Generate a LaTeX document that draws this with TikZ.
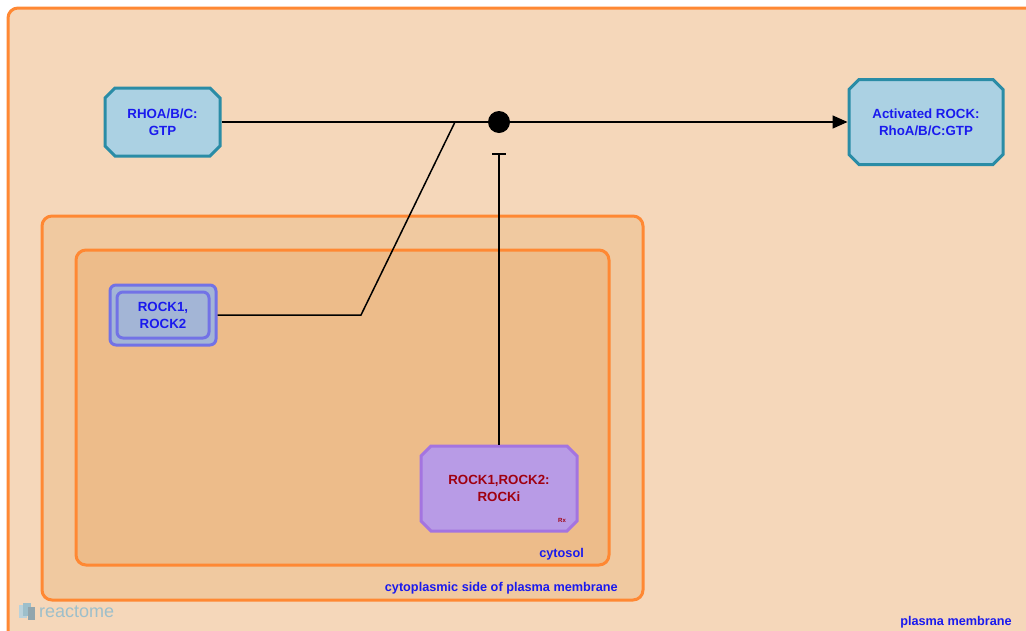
\documentclass[tikz,border=0pt]{standalone}
\usepackage{fontspec}
\setmainfont{Liberation Sans}
\usetikzlibrary{shapes.misc,arrows.meta}
\definecolor{pmfill}{HTML}{F5D7BA}
\definecolor{cpfill}{HTML}{F0C9A0}
\definecolor{cyfill}{HTML}{EDBC8A}
\definecolor{compline}{HTML}{FF8833}
\definecolor{protfill}{HTML}{ABD1E3}
\definecolor{protline}{HTML}{2A8CA6}
\definecolor{cxfill}{HTML}{A3B5D6}
\definecolor{cxline}{HTML}{7272E6}
\definecolor{drugfill}{HTML}{B89BE6}
\definecolor{drugline}{HTML}{A474E0}
\definecolor{lbl}{HTML}{1A1AEE}
\definecolor{druglbl}{HTML}{A00010}
\definecolor{logo}{HTML}{9DBFCB}
\tikzset{
  comp/.style={draw=compline, line width=3pt, rounded corners=10pt},
  complbl/.style={text=lbl, font=\bfseries\fontsize{12.7}{14}\selectfont, inner sep=0pt},
  nodefont/.style={font=\bfseries\fontsize{13.3}{17}\selectfont},
  prot/.style={chamfered rectangle, chamfered rectangle xsep=5pt, chamfered rectangle ysep=5pt,
     draw=protline, fill=protfill, line width=3pt, text=lbl, align=center, nodefont, inner sep=0pt},
  drugbox/.style={chamfered rectangle, chamfered rectangle xsep=5pt, chamfered rectangle ysep=5pt,
     draw=drugline, fill=drugfill, line width=3pt, text=druglbl, align=center, nodefont, inner sep=0pt},
  cxout/.style={rectangle, rounded corners=6pt, draw=cxline, fill=cxfill, line width=3pt, inner sep=0pt},
  cxin/.style={rectangle, rounded corners=6pt, draw=cxline, line width=3pt, text=lbl, align=center,
     nodefont, inner sep=0pt},
  edge/.style={draw=black, line width=1.5pt},
}
\begin{document}
\begin{tikzpicture}[x=1pt,y=-1pt]
\useasboundingbox (0,0) rectangle (1026,630);
\fill[white] (0,0) rectangle (1026,630);
% compartments
\path[comp, fill=pmfill] (8,8) rectangle (1040,645);
\path[comp, fill=cpfill] (42,216) rectangle (643,600);
\path[comp, fill=cyfill] (76,250) rectangle (609,565);
\node[complbl, anchor=base east] (lcy) at (584,557) {cytosol};
\node[complbl, anchor=base east] (lcp) at (618,591) {cytoplasmic side of plasma membrane};
\node[complbl, anchor=base east] (lpm) at (1012,625) {plasma membrane};
% logo
\fill[logo!70] (19,605) rectangle (27,618);
\fill[logo] (23,603) rectangle (31,616);
\fill[logo!60!gray] (28,607) rectangle (35,620);
\node[text=logo, anchor=base west, inner sep=0pt, font=\fontsize{18}{18}\selectfont] (logotext) at (39,617) {reactome};
% nodes
\node[prot, minimum width=115pt, minimum height=68pt] (rhoa) at (162.5,122) {RHOA/B/C:\\GTP};
\node[prot, minimum width=154pt, minimum height=85pt] (act) at (926,122) {Activated ROCK:\\RhoA/B/C:GTP};
\node[cxout, minimum width=106pt, minimum height=60pt] (rock) at (163,315) {};
\node[cxin, minimum width=92pt, minimum height=46pt] (rockin) at (163,315) {ROCK1,\\ROCK2};
\node[drugbox, minimum width=156pt, minimum height=85pt] (drug) at (499,488.5) {ROCK1,ROCK2:\\ROCKi};
\node[text=druglbl, font=\bfseries\fontsize{6}{6}\selectfont, inner sep=0pt] (rx) at (562,520) {Rx};
% reaction
\node[circle, fill=black, minimum size=22pt, inner sep=0pt] (dot) at (499,122) {};
\coordinate (junc) at (455,122);
\coordinate (bend) at (361,315);
\coordinate (tbar) at (499,153);
\draw[edge] (rhoa.east) -- (dot);
\draw[edge] (rock.east) -- (bend) -- (junc);
\draw[edge, -{Triangle[length=15pt, width=13pt]}] (dot) -- (act.west);
\draw[edge, -{Bar[width=14pt, line width=1.5pt]}] (drug.north) -- (tbar);
\end{tikzpicture}
\end{document}
